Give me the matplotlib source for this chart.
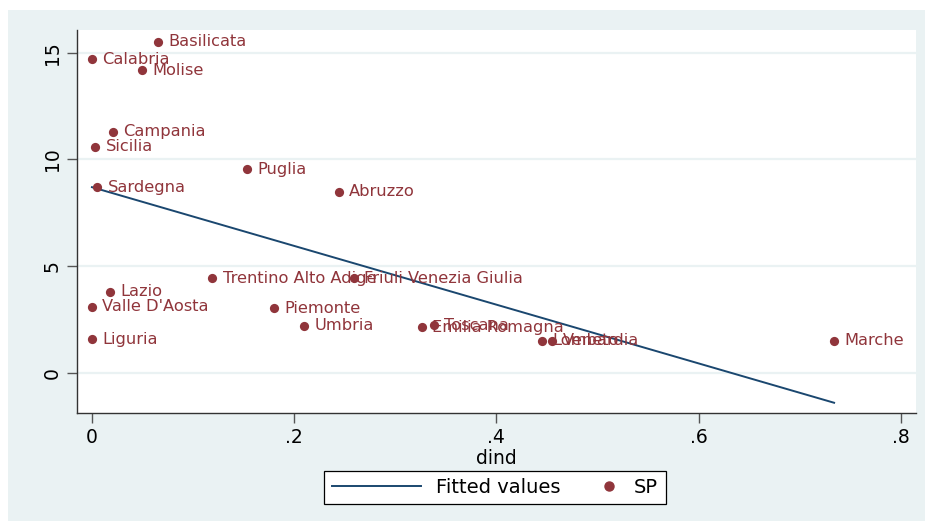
import numpy as np
import matplotlib.pyplot as plt
from matplotlib.lines import Line2D
from matplotlib.patches import Rectangle

# regions: dind vs SP
regions = ['Basilicata', 'Calabria', 'Molise', 'Campania', 'Sicilia',
           'Puglia', 'Sardegna', 'Abruzzo', 'Trentino Alto Adige',
           'Friuli Venezia Giulia', 'Lazio', "Valle D'Aosta", 'Piemonte',
           'Umbria', 'Liguria', 'Emilia Romagna', 'Toscana', 'Lombardia',
           'Veneto', 'Marche']
dind = [0.065, 0.0, 0.049, 0.021, 0.003,
        0.153, 0.005, 0.244, 0.119,
        0.259, 0.018, 0.0, 0.180,
        0.210, 0.0, 0.326, 0.338, 0.445,
        0.455, 0.734]
sp = [15.52, 14.71, 14.19, 11.30, 10.60,
      9.54, 8.69, 8.49, 4.42,
      4.42, 3.80, 3.09, 3.02,
      2.20, 1.57, 2.12, 2.22, 1.49,
      1.49, 1.49]

# fitted values line (endpoints)
fit_x = [0.0, 0.734]
fit_y = [8.70, -1.41]

xticks = [0, 0.2, 0.4, 0.6, 0.8]
xticklabels = ['0', '.2', '.4', '.6', '.8']
yticks = [0, 5, 10, 15]

navy = '#1A476F'
maroon = '#90353B'
bg = '#EAF2F3'

plt.rcParams['font.family'] = 'DejaVu Sans'

fig = plt.figure(figsize=(9.25, 5.21), dpi=100, facecolor='white')
fig.patches.append(Rectangle((8 / 925, 0), 1 - 8 / 925, 1 - 10 / 521,
                             transform=fig.transFigure, facecolor=bg,
                             edgecolor='none', zorder=-10))

ax = fig.add_axes([77 / 925, 108 / 521, (916 - 77) / 925, (413 - 30) / 521])
ax.set_facecolor('white')

ax.plot(fit_x, fit_y, color=navy, lw=1.4, zorder=2, label='Fitted values')
ax.scatter(dind, sp, s=44, color=maroon, zorder=3, linewidths=0, label='SP')
for name, x, y in zip(regions, dind, sp):
    ax.annotate(name, (x, y), xytext=(7.5, 0), textcoords='offset points',
                va='center', ha='left', color=maroon, fontsize=11.7, zorder=4)

ax.set_xlim(-0.0148, 0.815)
ax.set_ylim(-1.89, 16.07)
ax.set_xticks(xticks)
ax.set_xticklabels(xticklabels)
ax.set_yticks(yticks)
ax.grid(axis='y', color=bg, lw=1.6)
ax.set_axisbelow(True)

for side in ['top', 'right']:
    ax.spines[side].set_visible(False)
for side in ['left', 'bottom']:
    ax.spines[side].set_color('#333333')
    ax.spines[side].set_linewidth(1.0)

ax.tick_params(axis='both', length=7, width=1, color='#555555',
               labelsize=13.5, pad=4)
for lab in ax.get_yticklabels():
    lab.set_rotation(90)
    lab.set_va('center')

ax.set_xlabel('dind', fontsize=13.5, labelpad=1)


class RightDot:
    # legend marker drawn near the right end of its handle box
    def legend_artist(self, legend, orig_handle, fontsize, handlebox):
        x = handlebox.xdescent + handlebox.width * 0.88
        y = handlebox.height / 2 - handlebox.ydescent
        dot = Line2D([x], [y], marker='o', ms=6.5, color=maroon, lw=0,
                     transform=handlebox.get_transform())
        handlebox.add_artist(dot)
        return dot


handles, labels = ax.get_legend_handles_labels()
leg = fig.legend(handles, labels, loc='center',
                 bbox_to_anchor=(495 / 925, 1 - 487.5 / 521), ncol=2,
                 fontsize=14, frameon=True, fancybox=False,
                 edgecolor='black', framealpha=1, handlelength=4.6,
                 handletextpad=0.75, columnspacing=-1.55, borderpad=0.38,
                 handler_map={type(handles[1]): RightDot()})
leg.get_frame().set_linewidth(0.9)

fig.savefig('out.png', dpi=100, facecolor=fig.get_facecolor())
